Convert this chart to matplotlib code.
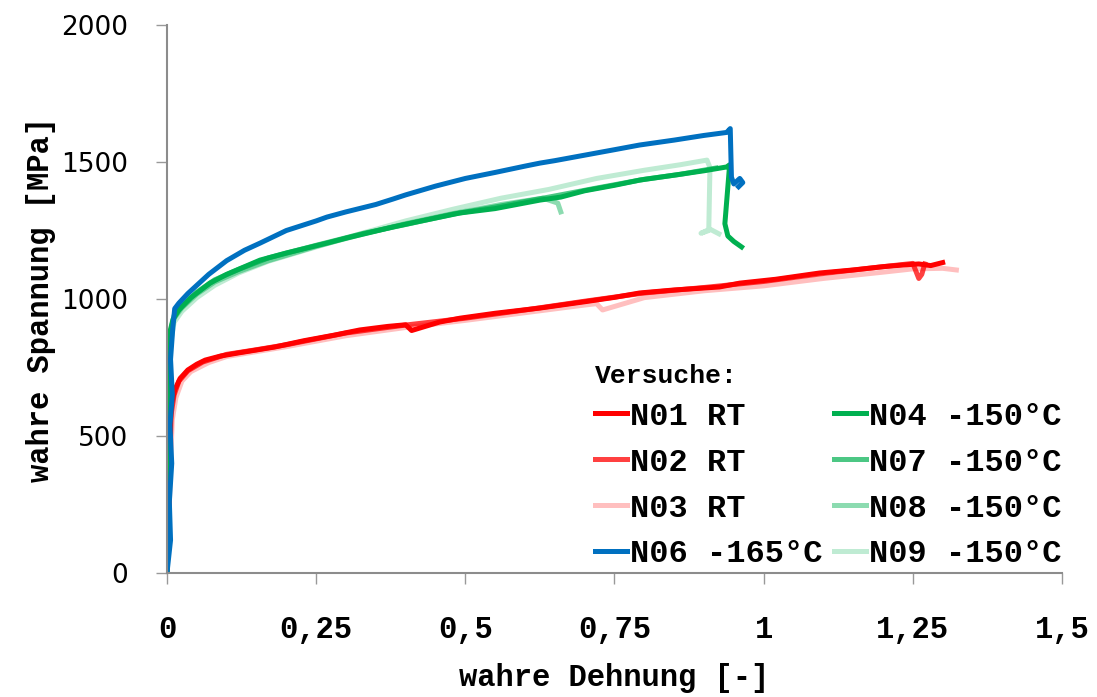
import matplotlib
matplotlib.use("Agg")
import matplotlib.pyplot as plt

# --- data (true strain [-], true stress [MPa]) ---
n01_x = [0.0, 0.002, 0.004, 0.005, 0.006, 0.008, 0.013, 0.022, 0.035, 0.05, 0.064, 0.09,
         0.119, 0.15, 0.181, 0.23, 0.28, 0.323, 0.37, 0.40, 0.41, 0.457, 0.491, 0.55,
         0.625, 0.70, 0.75, 0.792, 0.85, 0.926, 0.96, 1.02, 1.094, 1.15, 1.20, 1.233,
         1.26, 1.28, 1.30]
n01_y = [0, 150, 320, 450, 560, 620, 668, 710, 741, 762, 777, 792, 803, 814, 825, 848, 868,
         887, 900, 906, 885, 916, 930, 948, 967, 990, 1006, 1022, 1033, 1044, 1058, 1072,
         1095, 1106, 1118, 1124, 1128, 1122, 1133]

n02_x = [0.0, 0.003, 0.005, 0.007, 0.012, 0.02, 0.035, 0.06, 0.1, 0.15, 0.2, 0.3, 0.4,
         0.5, 0.6, 0.7, 0.8, 0.9, 1.0, 1.1, 1.2, 1.25, 1.26, 1.265, 1.27]
n02_y = [0, 200, 420, 580, 650, 700, 738, 770, 798, 815, 833, 876, 905, 930, 960, 992,
         1022, 1042, 1064, 1093, 1118, 1130, 1075, 1090, 1128]

n03_x = [0.0, 0.003, 0.006, 0.009, 0.015, 0.025, 0.04, 0.07, 0.1, 0.15, 0.2, 0.3, 0.4,
         0.5, 0.6, 0.7, 0.72, 0.73, 0.8, 0.9, 1.0, 1.1, 1.2, 1.25, 1.3, 1.323]
n03_y = [0, 180, 400, 560, 640, 700, 735, 768, 790, 808, 826, 866, 896, 922, 950, 978,
         983, 960, 1005, 1030, 1048, 1075, 1098, 1110, 1112, 1106]

n04_x = [0.0, 0.002, 0.003, 0.004, 0.005, 0.01, 0.02, 0.04, 0.072, 0.1, 0.156, 0.2, 0.268,
         0.3, 0.379, 0.42, 0.491, 0.55, 0.625, 0.66, 0.7, 0.75, 0.792, 0.85, 0.9, 0.938,
         0.943, 0.935, 0.94, 0.95, 0.963]
n04_y = [0, 250, 500, 700, 880, 925, 960, 1005, 1058, 1090, 1142, 1168, 1204, 1222, 1263,
         1282, 1314, 1330, 1361, 1372, 1395, 1415, 1434, 1452, 1468, 1482, 1490, 1275,
         1230, 1210, 1190]

n07_x = [0.0, 0.002, 0.004, 0.006, 0.012, 0.025, 0.05, 0.08, 0.12, 0.17, 0.25, 0.33, 0.4,
         0.48, 0.56, 0.64, 0.72, 0.8, 0.86, 0.92]
n07_y = [0, 300, 620, 880, 940, 975, 1025, 1070, 1108, 1150, 1196, 1240, 1272, 1310,
         1340, 1372, 1405, 1437, 1455, 1478]

n08_x = [0.0, 0.002, 0.004, 0.006, 0.012, 0.025, 0.05, 0.08, 0.12, 0.17, 0.25, 0.33, 0.4,
         0.48, 0.56, 0.63, 0.655, 0.66]
n08_y = [0, 280, 600, 860, 930, 968, 1018, 1062, 1100, 1140, 1192, 1238, 1275, 1312,
         1345, 1368, 1350, 1318]

n09_x = [0.0, 0.002, 0.004, 0.006, 0.012, 0.025, 0.05, 0.08, 0.12, 0.17, 0.25, 0.33, 0.4,
         0.48, 0.56, 0.64, 0.72, 0.8, 0.86, 0.905, 0.91, 0.908, 0.895, 0.91, 0.925]
n09_y = [0, 270, 580, 840, 915, 955, 1005, 1050, 1095, 1138, 1190, 1242, 1285, 1328,
         1368, 1400, 1440, 1470, 1490, 1507, 1480, 1250, 1240, 1255, 1238]

n06_x = [0.0, 0.006, 0.004, 0.008, 0.005, 0.009, 0.006, 0.010, 0.013, 0.02, 0.035, 0.05,
         0.07, 0.10, 0.13, 0.156, 0.20, 0.25, 0.268, 0.30, 0.35, 0.379, 0.40, 0.45, 0.50,
         0.55, 0.60, 0.625, 0.65, 0.70, 0.75, 0.792, 0.85, 0.90, 0.938, 0.944, 0.946,
         0.95, 0.96, 0.965, 0.958]
n06_y = [0, 120, 260, 400, 540, 650, 780, 900, 965, 985, 1020, 1050, 1090, 1140, 1178,
         1204, 1250, 1285, 1299, 1318, 1345, 1365, 1380, 1412, 1440, 1462, 1485, 1496,
         1505, 1525, 1545, 1562, 1580, 1597, 1608, 1622, 1445, 1420, 1440, 1425, 1410]

x_ticks = [0, 0.25, 0.5, 0.75, 1, 1.25, 1.5]
x_tick_labels = ["0", "0,25", "0,5", "0,75", "1", "1,25", "1,5"]
y_ticks = [0, 500, 1000, 1500, 2000]

RED, GREEN, BLUE = "#FF0000", "#00B050", "#0070C0"
MONO = "Liberation Mono"

fig = plt.figure(figsize=(10.97, 6.97), dpi=100)
ax = fig.add_axes([0.1522, 0.1779, 0.8159, 0.7862])

lw = 3.6
h01, = ax.plot(n01_x, n01_y, color=RED, lw=lw, label="N01 RT")
h02, = ax.plot(n02_x, n02_y, color=RED, lw=lw, alpha=0.75, label="N02 RT")
h03, = ax.plot(n03_x, n03_y, color=RED, lw=lw, alpha=0.25, label="N03 RT")
h09, = ax.plot(n09_x, n09_y, color=GREEN, lw=lw, alpha=0.25, label="N09 -150°C")
h08, = ax.plot(n08_x, n08_y, color=GREEN, lw=lw, alpha=0.45, label="N08 -150°C")
h07, = ax.plot(n07_x, n07_y, color=GREEN, lw=lw, alpha=0.7, label="N07 -150°C")
h04, = ax.plot(n04_x, n04_y, color=GREEN, lw=lw, label="N04 -150°C")
h06, = ax.plot(n06_x, n06_y, color=BLUE, lw=lw, label="N06 -165°C")

ax.set_xlim(0, 1.5)
ax.set_ylim(0, 2000)
ax.set_xticks(x_ticks)
ax.set_xticklabels(x_tick_labels, family=MONO, fontweight="bold", fontsize=22)
ax.set_yticks(y_ticks)
ax.set_yticklabels([str(v) for v in y_ticks], family="DejaVu Sans", fontsize=19)
ax.tick_params(axis="x", direction="out", length=8, width=1.0, color="#999999", pad=22)
ax.tick_params(axis="y", direction="out", length=8, width=1.0, color="#999999", pad=20)

for s in ("top", "right"):
    ax.spines[s].set_visible(False)
for s in ("left", "bottom"):
    ax.spines[s].set_color("#8c8c8c")
    ax.spines[s].set_linewidth(1.5)

ax.set_xlabel("wahre Dehnung [-]", family=MONO, fontweight="bold", fontsize=22, labelpad=13)
ax.set_ylabel("wahre Spannung [MPa]", family=MONO, fontweight="bold", fontsize=22, labelpad=4)

handles = [h01, h02, h03, h06, h04, h07, h08, h09]
leg = ax.legend(handles=handles, labels=[h.get_label() for h in handles], ncol=2,
                loc="upper left", bbox_to_anchor=(0.478, 0.382), frameon=False,
                prop={"family": MONO, "weight": "bold", "size": 23},
                title="Versuche:", title_fontproperties={"family": MONO, "weight": "bold", "size": 19},
                handlelength=1.0, handletextpad=0.1, columnspacing=0.35, labelspacing=0.5,
                borderpad=0, borderaxespad=0)
leg._legend_box.align = "left"
leg._legend_box.sep = 10

fig.savefig("out.png", dpi=100)
